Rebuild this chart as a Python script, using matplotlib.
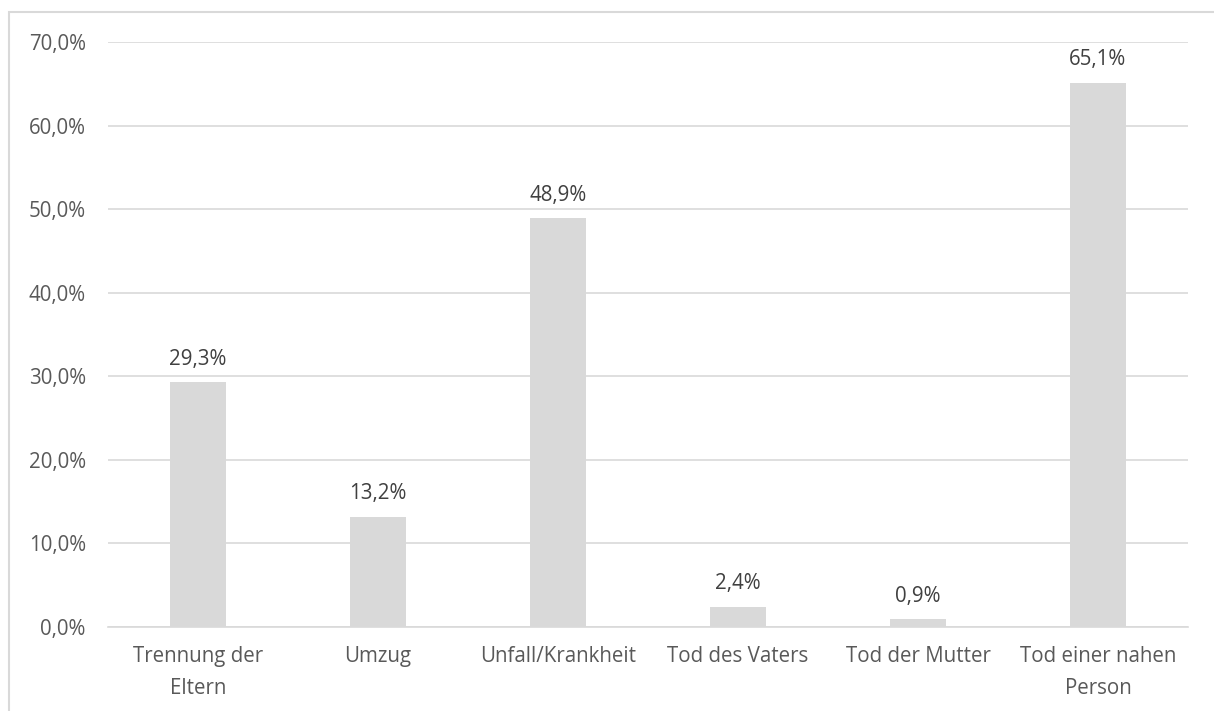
import matplotlib.pyplot as plt
from matplotlib.patches import Rectangle
from matplotlib.ticker import FuncFormatter

categories = ["Trennung der\nEltern", "Umzug", "Unfall/Krankheit",
              "Tod des Vaters", "Tod der Mutter", "Tod einer nahen\nPerson"]
values = [29.3, 13.2, 48.9, 2.4, 0.9, 65.1]
yticks = [0, 10, 20, 30, 40, 50, 60, 70]

plt.rcParams['font.family'] = ['Open Sans', 'DejaVu Sans']
text_color = "#595959"
fs = 14.8

fig = plt.figure(figsize=(12.14, 7.11), dpi=100)
W, H = 1214, 711
ax = fig.add_axes([108 / W, 1 - 627 / H, 1080 / W, (627 - 42) / H])

x = range(len(categories))
ax.bar(x, values, width=0.31, color="#D9D9D9", zorder=2)
for i, v in enumerate(values):
    ax.text(i, v + 1.5, f"{v:.1f}%".replace(".", ","), ha="center", va="bottom",
            fontsize=fs, color="#404040")

ax.set_xlim(-0.5, len(categories) - 0.5)
ax.set_ylim(0, 70)
ax.set_yticks(yticks)
ax.yaxis.set_major_formatter(FuncFormatter(lambda v, p: f"{v:.1f}%".replace(".", ",")))
ax.grid(axis="y", color="#D9D9D9", linewidth=1.2, zorder=0)
ax.set_xticks(list(x))
ax.set_xticklabels(categories, fontsize=fs, color=text_color, linespacing=1.65)
ax.tick_params(axis="y", labelsize=fs, labelcolor=text_color, length=0, pad=16)
ax.tick_params(axis="x", length=0, pad=14)
for s in ["top", "right", "left"]:
    ax.spines[s].set_visible(False)
ax.spines["bottom"].set_color("#D9D9D9")
ax.spines["bottom"].set_linewidth(1.2)

# outer chart frame
fig.patches.append(Rectangle((9 / W, -0.1), 1.2, 1.1 - 12 / H, transform=fig.transFigure,
                             fill=False, edgecolor="#D9D9D9", linewidth=1.5))

fig.savefig("out.png", dpi=100)
